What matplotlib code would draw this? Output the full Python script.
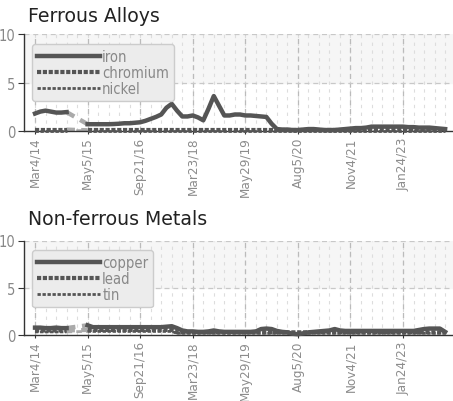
import numpy as np
import matplotlib
matplotlib.use("Agg")
import matplotlib.pyplot as plt
from matplotlib.lines import Line2D
from matplotlib.font_manager import FontProperties

nan = np.nan

tick_labels = ["Mar4/14", "May5/15", "Sep21/16", "Mar23/18",
               "May29/19", "Aug5/20", "Nov4/21", "Jan24/23"]
tick_step = 10

# ferrous alloys
iron = [1.8, 2.0, 2.1, 2.0, 1.9, 1.9, 1.95, nan, nan, nan,
        0.7, 0.7, 0.7, 0.7, 0.7, 0.72, 0.75, 0.8, 0.8, 0.85,
        0.9, 1.05, 1.25, 1.45, 1.7, 2.4, 2.8, 2.1, 1.5, 1.5,
        1.6, 1.4, 1.1, 2.3, 3.6, 2.6, 1.6, 1.6, 1.7, 1.7,
        1.6, 1.6, 1.55, 1.5, 1.45, 0.75, 0.2, 0.15, 0.15, 0.1,
        0.1, 0.15, 0.2, 0.2, 0.15, 0.1, 0.1, 0.1, 0.15, 0.2,
        0.25, 0.3, 0.3, 0.35, 0.45, 0.45, 0.45, 0.45, 0.45, 0.45,
        0.45, 0.4, 0.4, 0.35, 0.35, 0.35, 0.3, 0.25, 0.2]
chromium = [0.15] * 7 + [nan] * 3 + [0.08] * 69
nickel = [0.05] * 7 + [nan] * 3 + [0.03] * 69

# non-ferrous metals
copper = [0.75, 0.75, 0.7, 0.7, 0.75, 0.7, 0.7, nan, nan, nan,
          1.0, 0.8, 0.8, 0.8, 0.8, 0.8, 0.8, 0.8, 0.8, 0.8,
          0.8, 0.8, 0.8, 0.8, 0.8, 0.85, 0.9, 0.7, 0.45, 0.35,
          0.35, 0.3, 0.3, 0.35, 0.45, 0.35, 0.3, 0.3, 0.3, 0.3,
          0.3, 0.3, 0.35, 0.6, 0.65, 0.6, 0.4, 0.3, 0.25, 0.1,
          0.05, 0.15, 0.25, 0.3, 0.35, 0.4, 0.45, 0.6, 0.45, 0.4,
          0.4, 0.4, 0.4, 0.4, 0.4, 0.4, 0.4, 0.4, 0.4, 0.4,
          0.4, 0.4, 0.4, 0.5, 0.6, 0.65, 0.65, 0.65, 0.3]
lead = [0.45] * 7 + [nan] * 3 + [0.5] * 17 + [0.25] * 52
tin = [0.3] * 7 + [nan] * 3 + [0.35] * 17 + [0.15] * 52

panels = [
    ("Ferrous Alloys", [("iron", iron), ("chromium", chromium), ("nickel", nickel)]),
    ("Non-ferrous Metals", [("copper", copper), ("lead", lead), ("tin", tin)]),
]

def narrow(size):
    return FontProperties(family="DejaVu Sans", stretch="condensed", size=size)

styles = [
    dict(lw=3.2, ls="-"),
    dict(lw=3.0, ls=(0, (1.0, 0.4))),
    dict(lw=2.0, ls=(0, (1.2, 0.6))),
]
line_col = "#555555"
gap_col = "#aaaaaa"

W, H = 453, 402
fig = plt.figure(figsize=(W / 100, H / 100), dpi=100)

boxes = [(35, 132), (241.5, 335.7)]
title_y = [22, 225]

for (title, series), (ytop, ybot), ty in zip(panels, boxes, title_y):
    ax = fig.add_axes([24 / W, 1 - ybot / H, 1 - 24 / W, (ybot - ytop) / H])
    n = len(series[0][1])
    x = np.arange(n)
    ax.set_xlim(-2.1, 79.5)
    ax.set_ylim(0, 10)

    ax.axhspan(5, 10, color="#f6f6f6", zorder=0)
    for xm in np.arange(0, 80, 2):
        ax.axvline(xm, color="#dddddd", lw=0.8, ls=(0, (3, 4)), zorder=0.5)
    for xm in np.arange(0, 80, tick_step):
        ax.axvline(xm, color="#bbbbbb", lw=0.9, ls=(0, (4, 3)), zorder=0.6)
    for yv in (5, 10):
        ax.axhline(yv, color="#c8c8c8", lw=0.9, ls=(0, (4, 3)), zorder=0.6)

    handles = []
    for (name, vals), st in zip(series, styles):
        v = np.array(vals, dtype=float)
        # lighter dashed bridge across missing points
        isn = np.isnan(v)
        i0 = np.where(isn)[0][0] - 1
        i1 = np.where(isn)[0][-1] + 1
        ax.plot([x[i0], x[i1]], [v[i0], v[i1]], color=gap_col, lw=st["lw"],
                ls=(0, (2, 1.5)), zorder=2, solid_capstyle="butt")
        ax.plot(x, v, color=line_col, lw=st["lw"], ls=st["ls"], zorder=3,
                solid_joinstyle="round", clip_on=False)
        handles.append(Line2D([], [], color=line_col, lw=st["lw"], ls=st["ls"]))

    leg = ax.legend(handles, [s[0] for s in series], loc="upper left",
                    bbox_to_anchor=(0.019, 0.9), borderaxespad=0,
                    handlelength=4.3, handletextpad=0.15, labelspacing=0.08,
                    fancybox=True, framealpha=1, borderpad=0.35,
                    prop=narrow(10.5))
    leg.get_frame().set_facecolor("#ececec")
    leg.get_frame().set_edgecolor("#cccccc")
    for t in leg.get_texts():
        t.set_color("#888888")

    for s in ("top", "right"):
        ax.spines[s].set_visible(False)
    ax.spines["left"].set_color("#333333")
    ax.spines["bottom"].set_color("#333333")
    ax.spines["left"].set_linewidth(1.0)
    ax.spines["bottom"].set_linewidth(1.0)

    ax.set_yticks([0, 5, 10])
    ax.set_yticklabels(["0", "5", "10"], fontproperties=narrow(10.5), color="#888888")
    ax.tick_params(axis="y", length=4, color="#333333", pad=2)
    ax.set_xticks(np.arange(len(tick_labels)) * tick_step)
    ax.set_xticklabels(tick_labels, rotation=90, fontproperties=narrow(9.6),
                       color="#8c8c8c")
    ax.tick_params(axis="x", length=2, color="#333333", pad=2)

    fig.text(28 / W, 1 - ty / H, title, family="DejaVu Sans",
             fontsize=13.6, color="#222222", va="baseline", ha="left")

fig.savefig("out.png", dpi=100)
